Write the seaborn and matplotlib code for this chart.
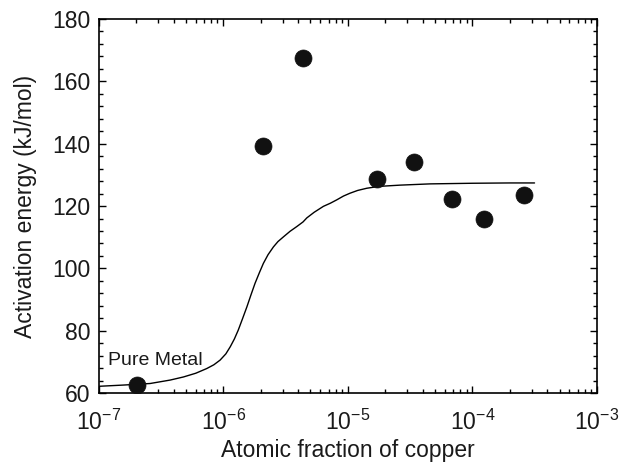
import matplotlib
matplotlib.use("Agg")
import matplotlib.pyplot as plt
import matplotlib.ticker as mticker
import seaborn as sns
import pandas as pd

# Measured data points
cu_fraction = [2.03e-7, 2.1e-6, 4.33e-6, 1.71e-5, 3.4e-5, 6.84e-5, 1.24e-4, 2.57e-4]
activation_energy = [62.6, 139.3, 167.4, 128.7, 134.2, 122.2, 116.0, 123.5]

# Model curve
curve_x = [1.0e-7, 1.58e-7, 2.59e-7, 3.75e-7, 4.8e-7, 6.03e-7, 7.38e-7, 8.41e-7,
           9.44e-7, 1.05e-6, 1.14e-6, 1.23e-6, 1.32e-6, 1.43e-6, 1.55e-6, 1.67e-6,
           1.8e-6, 1.95e-6, 2.1e-6, 2.29e-6, 2.53e-6, 2.75e-6, 3.04e-6, 3.44e-6,
           3.89e-6, 4.37e-6, 4.69e-6, 5.37e-6, 6.37e-6, 7.24e-6, 8.17e-6, 9.23e-6,
           1.04e-5, 1.2e-5, 1.42e-5, 1.78e-5, 2.63e-5, 4.57e-5, 1.0e-4, 2.0e-4, 3.15e-4]
curve_y = [62.2, 62.6, 63.1, 64.2, 65.2, 66.4, 67.9, 69.1,
           70.6, 72.6, 74.9, 77.4, 80.2, 83.9, 87.7, 91.5,
           95.2, 98.6, 101.6, 104.4, 106.9, 108.6, 110.1, 111.9,
           113.4, 114.9, 116.2, 118.0, 119.9, 120.9, 122.0, 123.2,
           124.1, 125.0, 125.7, 126.3, 126.7, 127.1, 127.3, 127.4, 127.4]

xlim = (1e-7, 1e-3)
ylim = (60, 180)
yticks = [60, 80, 100, 120, 140, 160, 180]
xlabel = "Atomic fraction of copper"
ylabel = "Activation energy (kJ/mol)"
annotation = "Pure Metal"

sns.set_style("ticks")
plt.rcParams['font.family'] = ['Liberation Sans', 'DejaVu Sans']
plt.rcParams['mathtext.default'] = 'regular'
plt.rcParams['text.color'] = '#1a1a1a'
plt.rcParams['axes.labelcolor'] = '#1a1a1a'
plt.rcParams['xtick.labelcolor'] = '#1a1a1a'
plt.rcParams['ytick.labelcolor'] = '#1a1a1a'

fig = plt.figure(figsize=(6.2, 4.72), dpi=100)
ax = fig.add_axes([0.159, 0.167, 0.804, 0.793])

df_curve = pd.DataFrame({"x": curve_x, "y": curve_y})
df_pts = pd.DataFrame({"x": cu_fraction, "y": activation_energy})

sns.lineplot(data=df_curve, x="x", y="y", ax=ax, color="black", linewidth=1.0,
             sort=False, estimator=None)
sns.scatterplot(data=df_pts, x="x", y="y", ax=ax, color="#111111", s=150,
                edgecolor="#111111", linewidth=0.5, zorder=3)

ax.set_xscale("log")
ax.set_xlim(*xlim)
ax.set_ylim(*ylim)
ax.set_yticks(yticks)
ax.yaxis.set_minor_locator(mticker.MultipleLocator(4))
ax.xaxis.set_major_locator(mticker.LogLocator(base=10, numticks=10))
ax.xaxis.set_minor_locator(mticker.LogLocator(base=10, subs=range(2, 10), numticks=20))
ax.xaxis.set_major_formatter(mticker.LogFormatterMathtext())
ax.xaxis.set_minor_formatter(mticker.NullFormatter())

ax.tick_params(which="both", direction="in", top=True, right=True, color="black", width=1)
ax.tick_params(which="major", length=5, labelsize=16.5)
ax.tick_params(axis="y", which="major", pad=6)
ax.tick_params(axis="x", which="major", pad=12)
ax.tick_params(which="minor", length=3)
for s in ax.spines.values():
    s.set_color("black")
    s.set_linewidth(1.2)

ax.set_xlabel(xlabel, fontsize=16.5, labelpad=3)
ax.set_ylabel(ylabel, fontsize=16.5, labelpad=11)

ax.text(1.19e-7, 70.5, annotation, fontsize=14, ha="left", va="center")

fig.savefig("out.png", dpi=100)
